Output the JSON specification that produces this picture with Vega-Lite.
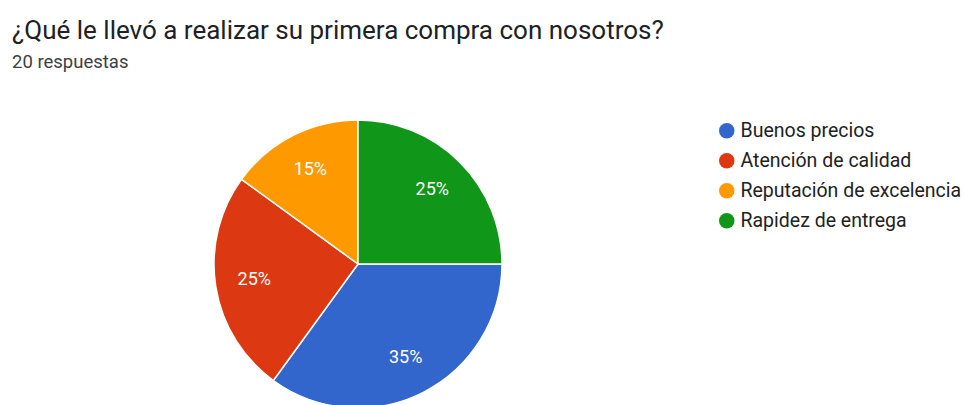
{
  "$schema": "https://vega.github.io/schema/vega-lite/v6.json",
  "autosize": "none",
  "width": 716,
  "height": 288,
  "padding": {"top": 120, "left": 0, "right": 248, "bottom": 0},
  "background": "white",
  "config": {"view": {"stroke": null}, "font": "Roboto"},
  "title": {
    "text": "¿Qué le llevó a realizar su primera compra con nosotros?",
    "subtitle": "20 respuestas",
    "anchor": "start",
    "frame": "group",
    "dx": 12,
    "offset": 46,
    "font": "Roboto",
    "fontSize": 26,
    "fontWeight": "normal",
    "color": "#202124",
    "subtitleFont": "Roboto",
    "subtitleFontSize": 18.5,
    "subtitleColor": "#3c4043",
    "subtitlePadding": 9
  },
  "data": {
    "values": [
      {"respuesta": "Buenos precios", "porcentaje": 35, "etiqueta": "35%", "orden": 1},
      {"respuesta": "Atención de calidad", "porcentaje": 25, "etiqueta": "25%", "orden": 2},
      {"respuesta": "Reputación de excelencia", "porcentaje": 15, "etiqueta": "15%", "orden": 3},
      {"respuesta": "Rapidez de entrega", "porcentaje": 25, "etiqueta": "25%", "orden": 4}
    ]
  },
  "encoding": {
    "theta": {"field": "porcentaje", "type": "quantitative", "stack": true, "scale": {"range": [1.5707963, 7.8539816]}},
    "order": {"field": "orden", "type": "quantitative"},
    "color": {
      "field": "respuesta",
      "type": "nominal",
      "sort": ["Buenos precios", "Atención de calidad", "Reputación de excelencia", "Rapidez de entrega"],
      "scale": {
        "domain": ["Buenos precios", "Atención de calidad", "Reputación de excelencia", "Rapidez de entrega"],
        "range": ["#3366cc", "#dc3912", "#ff9900", "#109618"]
      },
      "legend": {
        "title": null,
        "orient": "none",
        "legendX": 717,
        "legendY": 1,
        "symbolType": "circle",
        "symbolSize": 240,
        "symbolStrokeWidth": 0,
        "labelFont": "Roboto",
        "labelFontSize": 19.5,
        "labelColor": "#222222",
        "labelOffset": 4,
        "rowPadding": 9,
        "labelLimit": 300
      }
    }
  },
  "layer": [
    {"mark": {"type": "arc", "outerRadius": 144, "stroke": "white", "strokeWidth": 1.5}},
    {
      "mark": {"type": "text", "radius": 105, "fill": "white", "fontSize": 18, "font": "Roboto"},
      "encoding": {
        "text": {"field": "etiqueta", "type": "nominal"},
        "color": {"value": "white"}
      }
    }
  ]
}
